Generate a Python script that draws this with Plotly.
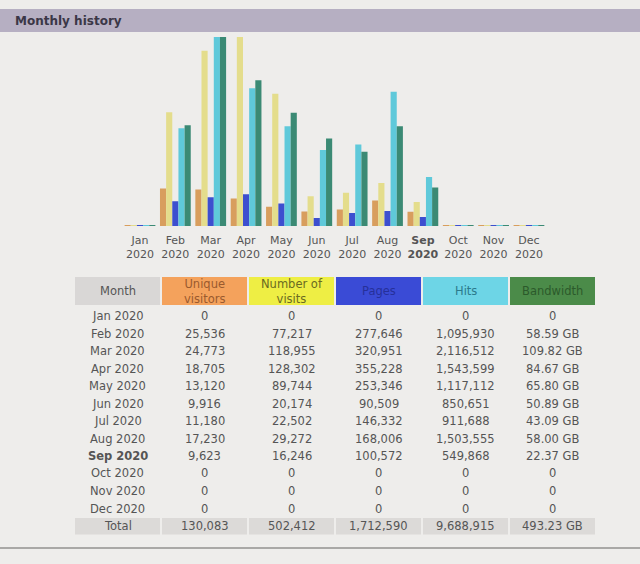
import plotly.graph_objects as go

# ---------------- data ----------------
months = ["Jan", "Feb", "Mar", "Apr", "May", "Jun", "Jul", "Aug", "Sep", "Oct", "Nov", "Dec"]
year = "2020"
current_month = "Sep"
unique_visitors = [0, 25536, 24773, 18705, 13120, 9916, 11180, 17230, 9623, 0, 0, 0]
visits = [0, 77217, 118955, 128302, 89744, 20174, 22502, 29272, 16246, 0, 0, 0]
pages = [0, 277646, 320951, 355228, 253346, 90509, 146332, 168006, 100572, 0, 0, 0]
hits = [0, 1095930, 2116512, 1543599, 1117112, 850651, 911688, 1503555, 549868, 0, 0, 0]
bandwidth_gb = [0, 58.59, 109.82, 84.67, 65.80, 50.89, 43.09, 58.00, 22.37, 0, 0, 0]

header_labels = ["Month", "Unique<br>visitors", "Number of<br>visits", "Pages", "Hits", "Bandwidth"]

# ---------------- styles ----------------
W, H = 640, 564
BG = "#eeedeb"
FONT = "DejaVu Sans"
TXT = "#555555"
bar_colors = ["#d89e5e", "#e4dd8c", "#3d4fcf", "#5fc9da", "#3b8a74"]
head_fill = ["#d9d7d6", "#f4a25c", "#eeee44", "#3a4bd6", "#6dd5e6", "#4b8b49"]
head_font = ["#555555", "#9a5a2e", "#6a6a22", "#26309a", "#2c7a8c", "#2b5a2b"]
total_fill = "#dcdad8"

# AWStats-style scaling: visitors/visits share a scale, pages/hits share one, bandwidth its own
vis_max = max(visits)
hit_max = max(hits)
bw_max = max(bandwidth_gb)
min_h = 1 / 189.0  # AWStats draws every bar at least 1px tall


def scaled(vals, m):
    return [max(v / m, min_h) for v in vals]


series = [
    ("Unique visitors", unique_visitors, vis_max),
    ("Number of visits", visits, vis_max),
    ("Pages", pages, hit_max),
    ("Hits", hits, hit_max),
    ("Bandwidth", bandwidth_gb, bw_max),
]

fig = go.Figure()
xs = list(range(len(months)))
for (name, vals, m), col in zip(series, bar_colors):
    fig.add_trace(go.Bar(x=xs, y=scaled(vals, m), name=name, marker=dict(color=col, line=dict(width=0)),
                         hoverinfo="skip"))

ticktext = []
for mo in months:
    t = f"{mo}<br>{year}"
    if mo == current_month:
        t = f"<b>{t}</b>"
    ticktext.append(t)

# ---------------- table (drawn with shapes + text annotations) ----------------
def fmt_int(v):
    return f"{v:,}"


def fmt_bw(v):
    return "0" if v == 0 else f"{v:.2f} GB"


month_col = []
for mo in months:
    t = f"{mo} {year}"
    month_col.append(f"<b>{t}</b>" if mo == current_month else t)
month_col.append("Total")

cols = [
    month_col,
    [fmt_int(v) for v in unique_visitors] + [fmt_int(sum(unique_visitors))],
    [fmt_int(v) for v in visits] + [fmt_int(sum(visits))],
    [fmt_int(v) for v in pages] + [fmt_int(sum(pages))],
    [fmt_int(v) for v in hits] + [fmt_int(sum(hits))],
    [fmt_bw(v) for v in bandwidth_gb] + [f"{sum(bandwidth_gb):.2f} GB"],
]

tab_x0, col_w, gap = 75, 87, 2
head_top, head_bot = 277, 305
row0_c, row_h = 316, 17.5


def px(x):
    return x / W


def py(y):
    return 1 - y / H


shapes = [
    dict(type="rect", xref="paper", yref="paper", x0=0, x1=1, y0=py(32), y1=py(9),
         fillcolor="#b6afc2", line=dict(width=0), layer="below"),
    dict(type="line", xref="paper", yref="paper", x0=0, x1=1, y0=py(548), y1=py(548),
         line=dict(color="#a9a8a6", width=2)),
]
annotations = [
    dict(text="<b>Monthly history</b>", xref="paper", yref="paper", x=px(13), y=py(21),
         xanchor="left", yanchor="middle", showarrow=False,
         font=dict(family=FONT, size=12, color="#3b3747")),
]

n_rows = len(cols[0])
for j, (lab, vals) in enumerate(zip(header_labels, cols)):
    cx0 = tab_x0 + j * col_w
    cx1 = cx0 + col_w - gap
    cc = (cx0 + cx1) / 2
    shapes.append(dict(type="rect", xref="paper", yref="paper", x0=px(cx0), x1=px(cx1),
                       y0=py(head_bot), y1=py(head_top), fillcolor=head_fill[j],
                       line=dict(width=0), layer="below"))
    annotations.append(dict(text=lab, xref="paper", yref="paper", x=px(cc), y=py((head_top + head_bot) / 2),
                            xanchor="center", yanchor="middle", showarrow=False, align="center",
                            font=dict(family=FONT, size=11.5, color=head_font[j])))
    # total row background
    tr_c = row0_c + (n_rows - 1) * row_h
    shapes.append(dict(type="rect", xref="paper", yref="paper", x0=px(cx0), x1=px(cx1),
                       y0=py(tr_c + 8.5), y1=py(tr_c - 8), fillcolor=total_fill,
                       line=dict(width=0), layer="below"))
    for i, v in enumerate(vals):
        annotations.append(dict(text=v, xref="paper", yref="paper", x=px(cc), y=py(row0_c + i * row_h),
                                xanchor="center", yanchor="middle", showarrow=False,
                                font=dict(family=FONT, size=11.5, color=TXT)))

# ---------------- layout ----------------
base_y = 226
top_y = 37
x0_px, step_px = 140, 35.36
fig.update_layout(
    width=W, height=H,
    margin=dict(l=0, r=0, t=0, b=0),
    paper_bgcolor=BG, plot_bgcolor=BG,
    showlegend=False,
    barmode="group", bargap=0.13, bargroupgap=0,
    xaxis=dict(domain=[(x0_px - step_px / 2) / W, (x0_px + 11 * step_px + step_px / 2) / W],
               range=[-0.5, 11.5], tickvals=xs, ticktext=ticktext, ticks="",
               ticklabelstandoff=6,
               showgrid=False, zeroline=False, showline=False,
               tickfont=dict(family=FONT, size=11, color=TXT), fixedrange=True),
    yaxis=dict(domain=[(H - base_y) / H, (H - top_y) / H], range=[0, 1], visible=False,
               fixedrange=True),
    shapes=shapes,
    annotations=annotations,
)

fig.write_html("out.html", config=dict(displayModeBar=False),
               post_script="document.body.style.margin='0';document.body.style.background='#eeedeb';")
